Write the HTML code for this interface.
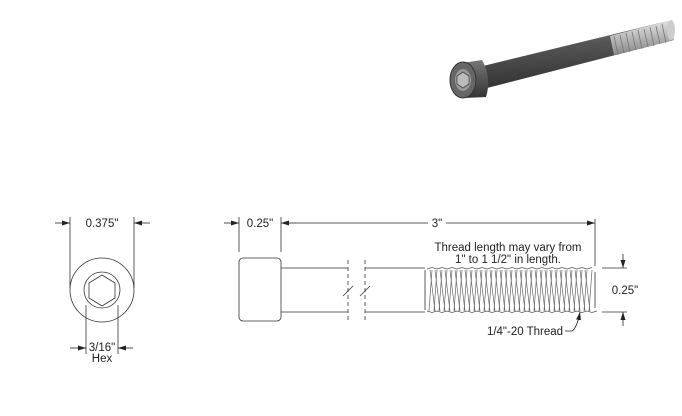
<!DOCTYPE html>
<html><head><meta charset="utf-8"><style>
html,body{margin:0;padding:0;background:#fff}
svg{display:block}
text{font-family:"Liberation Sans",sans-serif;font-size:11.5px;fill:#222}
</style></head><body>
<svg width="682" height="416" viewBox="0 0 682 416" xmlns="http://www.w3.org/2000/svg">
<defs>
<linearGradient id="sg" x1="0" y1="0" x2="0.15" y2="1">
<stop offset="0" stop-color="#8a8a8a"/><stop offset="0.4" stop-color="#555"/><stop offset="1" stop-color="#333"/>
</linearGradient>
<linearGradient id="tg" x1="0" y1="0" x2="0.15" y2="1">
<stop offset="0" stop-color="#eee"/><stop offset="0.5" stop-color="#bbb"/><stop offset="1" stop-color="#888"/>
</linearGradient>
<linearGradient id="hg" x1="0" y1="0" x2="0" y2="1">
<stop offset="0" stop-color="#777"/><stop offset="1" stop-color="#333"/>
</linearGradient>
<marker id="ar" markerWidth="8" markerHeight="6" refX="8" refY="3" orient="auto" markerUnits="userSpaceOnUse"><path d="M0,0.5 L8,3 L0,5.5z" fill="#222"/></marker>
</defs>
<!-- 3D bolt -->
<polygon points="483,66 668,21 674,40 487,88" fill="url(#sg)"/>
<polygon points="610,36 668,21 674,40 614,55" fill="url(#tg)"/>
<g stroke="#777" stroke-width="0.8">
<line x1="614" y1="36" x2="618" y2="55"/><line x1="620" y1="35" x2="624" y2="53"/><line x1="626" y1="33" x2="630" y2="52"/><line x1="632" y1="32" x2="636" y2="50"/><line x1="638" y1="30" x2="642" y2="49"/><line x1="644" y1="29" x2="648" y2="47"/><line x1="650" y1="27" x2="654" y2="46"/><line x1="656" y1="26" x2="660" y2="44"/><line x1="662" y1="24" x2="666" y2="43"/>
</g>
<ellipse cx="671" cy="30" rx="4" ry="10" fill="#ccc"/>
<path d="M462,63 L482,60 Q492,78 486,97 L464,98 Z" fill="url(#hg)"/>
<ellipse cx="463" cy="80" rx="13" ry="18" fill="#666" stroke="#333"/>
<ellipse cx="463" cy="80" rx="8" ry="11" fill="#999"/>
<polygon points="463,72 469,76 469,84 463,88 457,84 457,76" fill="#bbb" stroke="#444" stroke-width="0.8"/>
<!-- Front view -->
<g fill="none" stroke="#333" stroke-width="0.8">
<circle cx="102" cy="290" r="32"/>
<circle cx="102" cy="290" r="18"/>
<polygon points="102,275 115,283 115,298 102,306 89,298 89,283"/>
<line x1="70" y1="217" x2="70" y2="288"/>
<line x1="134" y1="217" x2="134" y2="288"/>
<line x1="86" y1="305" x2="86" y2="354"/>
<line x1="118" y1="305" x2="118" y2="354"/>
</g>
<g stroke="#222" stroke-width="0.8">
<line x1="55" y1="223" x2="70" y2="223" marker-end="url(#ar)"/>
<line x1="150" y1="223" x2="134" y2="223" marker-end="url(#ar)"/>
<line x1="70" y1="348" x2="86" y2="348" marker-end="url(#ar)"/>
<line x1="133" y1="348" x2="118" y2="348" marker-end="url(#ar)"/>
</g>
<text x="102" y="227" text-anchor="middle">0.375"</text>
<text x="102" y="351" text-anchor="middle">3/16"</text>
<text x="102" y="362" text-anchor="middle">Hex</text>
<!-- Side view -->
<g fill="none" stroke="#333" stroke-width="0.8">
<rect x="239" y="258" width="42" height="63" rx="4"/>
<line x1="281" y1="268" x2="348" y2="268"/>
<line x1="281" y1="312" x2="348" y2="312"/>
<line x1="365" y1="268" x2="425" y2="268"/>
<line x1="365" y1="312" x2="425" y2="312"/>
<line x1="348" y1="260" x2="348" y2="320" stroke-dasharray="4,3"/>
<line x1="365" y1="260" x2="365" y2="320" stroke-dasharray="4,3"/>
<line x1="343" y1="296" x2="353" y2="286"/>
<line x1="360" y1="296" x2="370" y2="286"/>
<line x1="239" y1="217" x2="239" y2="252"/>
<line x1="281" y1="217" x2="281" y2="252"/>
<line x1="595" y1="219" x2="595" y2="266"/>
<line x1="602" y1="268" x2="627" y2="268"/>
<line x1="602" y1="312" x2="627" y2="312"/>
<path d="M425,270 L425,310 M595,272 L595,308"/>
</g>
<g fill="none" stroke="#555" stroke-width="0.7">
<path d="M427,269 l5,-1.5 l5,1.5 l5,-1.5 l5,1.5 l5,-1.5 l5,1.5 l5,-1.5 l5,1.5 l5,-1.5 l5,1.5 l5,-1.5 l5,1.5 l5,-1.5 l5,1.5 l5,-1.5 l5,1.5 l5,-1.5 l5,1.5 l5,-1.5 l5,1.5 l5,-1.5 l5,1.5 l5,-1.5 l5,1.5 l5,-1.5 l5,1.5 l5,-1.5 l5,1.5 l5,-1.5 l5,1.5 l5,-1.5 l5,1.5 l5,-1.5"/>
<path d="M427,311 l5,1.5 l5,-1.5 l5,1.5 l5,-1.5 l5,1.5 l5,-1.5 l5,1.5 l5,-1.5 l5,1.5 l5,-1.5 l5,1.5 l5,-1.5 l5,1.5 l5,-1.5 l5,1.5 l5,-1.5 l5,1.5 l5,-1.5 l5,1.5 l5,-1.5 l5,1.5 l5,-1.5 l5,1.5 l5,-1.5 l5,1.5 l5,-1.5 l5,1.5 l5,-1.5 l5,1.5 l5,-1.5 l5,1.5 l5,-1.5 l5,1.5 l5,-1.5"/>
</g>
<g fill="none" stroke="#666" stroke-width="0.7">
<path d="M430,270 l5,41 M435,270 l5,41 M440,270 l5,41 M445,270 l5,41 M450,270 l5,41 M455,270 l5,41 M460,270 l5,41 M465,270 l5,41 M470,270 l5,41 M475,270 l5,41 M480,270 l5,41 M485,270 l5,41 M490,270 l5,41 M495,270 l5,41 M500,270 l5,41 M505,270 l5,41 M510,270 l5,41 M515,270 l5,41 M520,270 l5,41 M525,270 l5,41 M530,270 l5,41 M535,270 l5,41 M540,270 l5,41 M545,270 l5,41 M550,270 l5,41 M555,270 l5,41 M560,270 l5,41 M565,270 l5,41 M570,270 l5,41 M575,270 l5,41 M580,270 l5,41 M585,270 l5,41"/>
<path d="M432,270 l-3,41 M437,270 l-3,41 M442,270 l-3,41 M447,270 l-3,41 M452,270 l-3,41 M457,270 l-3,41 M462,270 l-3,41 M467,270 l-3,41 M472,270 l-3,41 M477,270 l-3,41 M482,270 l-3,41 M487,270 l-3,41 M492,270 l-3,41 M497,270 l-3,41 M502,270 l-3,41 M507,270 l-3,41 M512,270 l-3,41 M517,270 l-3,41 M522,270 l-3,41 M527,270 l-3,41 M532,270 l-3,41 M537,270 l-3,41 M542,270 l-3,41 M547,270 l-3,41 M552,270 l-3,41 M557,270 l-3,41 M562,270 l-3,41 M567,270 l-3,41 M572,270 l-3,41 M577,270 l-3,41 M582,270 l-3,41 M587,270 l-3,41 M592,270 l-3,41"/>
</g>
<g stroke="#222" stroke-width="0.8" fill="none">
<line x1="224" y1="223" x2="239" y2="223" marker-end="url(#ar)"/>
<line x1="296" y1="223" x2="281" y2="223" marker-end="url(#ar)"/>
<line x1="296" y1="223" x2="428" y2="223"/>
<line x1="446" y1="223" x2="595" y2="223" marker-end="url(#ar)"/>
<line x1="623" y1="254" x2="623" y2="268" marker-end="url(#ar)"/>
<line x1="623" y1="326" x2="623" y2="312" marker-end="url(#ar)"/>
<path d="M565,331 L572,331 Q577,328 580,312" marker-end="url(#ar)"/>
</g>
<text x="260" y="227" text-anchor="middle">0.25"</text>
<text x="437" y="227" text-anchor="middle">3"</text>
<text x="508" y="251" text-anchor="middle">Thread length may vary from</text>
<text x="508" y="263" text-anchor="middle">1" to 1 1/2" in length.</text>
<text x="625" y="294" text-anchor="middle">0.25"</text>
<text x="525" y="335" text-anchor="middle">1/4"-20 Thread</text>
</svg>
</body></html>
